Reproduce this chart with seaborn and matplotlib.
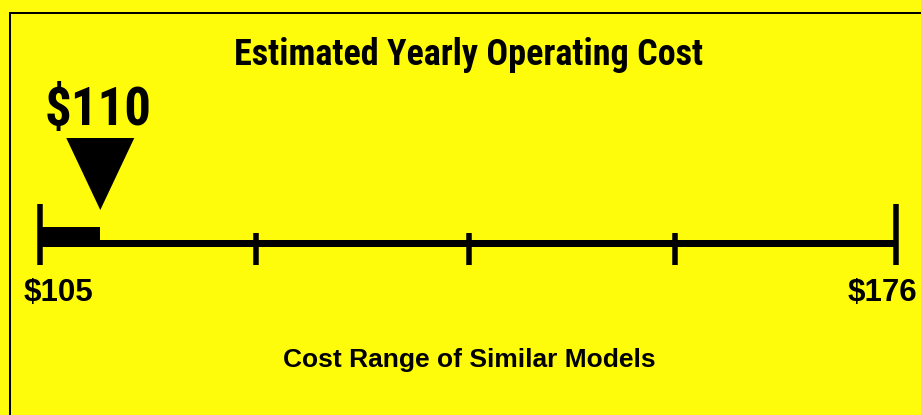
import matplotlib
matplotlib.use("Agg")
import matplotlib.pyplot as plt
from matplotlib import font_manager
from matplotlib.patches import Rectangle
import seaborn as sns
import pandas as pd

# ---- data ----
range_min = 105
range_max = 176
this_model = 110
tick_values = [122.9, 140.6, 157.7]
title = "Estimated Yearly Operating Cost"
subtitle = "Cost Range of Similar Models"

BG = "#FEFC0B"
W, H = 921, 415
DPI = 100

sns.set_theme(style="white", rc={"axes.facecolor": BG, "figure.facecolor": BG})

names = {f.name for f in font_manager.fontManager.ttflist}
WIDE = "Liberation Sans" if "Liberation Sans" in names else "DejaVu Sans"
NARROW = WIDE
for cand in ("Roboto Condensed", "Archivo Narrow", "Liberation Sans Narrow"):
    if cand in names:
        NARROW = cand
        break
plt.rcParams["font.family"] = [WIDE, "DejaVu Sans"]

fig = plt.figure(figsize=(W / DPI, H / DPI), dpi=DPI)
ax = fig.add_axes([0, 0, 1, 1])
ax.set_facecolor(BG)

# scale: range_min at px 40, range_max at px 896
px_left, px_right = 40, 896
ppd = (px_right - px_left) / (range_max - range_min)
ax.set_xlim(range_min - px_left / ppd, range_max + (W - px_right) / ppd)
ax.set_ylim(H, 0)  # y in pixel units, top-down
ax.axis("off")

pt = 72 / DPI  # points per pixel

# main scale line
line_df = pd.DataFrame({"x": [range_min, range_max], "y": [243, 243]})
sns.lineplot(data=line_df, x="x", y="y", ax=ax, color="black",
             linewidth=7 * pt, solid_capstyle="butt", legend=False)

# end ticks
for v in (range_min, range_max):
    ax.plot([v, v], [204, 265], color="black", linewidth=5.5 * pt, solid_capstyle="butt")
# intermediate ticks
for v in tick_values:
    ax.plot([v, v], [233, 265], color="black", linewidth=5.5 * pt, solid_capstyle="butt")

# thick bar from min to this model
ax.barh([237], [this_model - range_min], left=range_min, height=20,
        color="black", edgecolor="none")

# pointer triangle
hw = 34 / ppd
ax.fill([this_model - hw, this_model + hw, this_model], [138, 138, 210],
        color="black", linewidth=0)

# texts
ax.text(this_model - 2 / ppd, 125, f"${this_model}", fontsize=38, fontweight="bold",
        family=[NARROW, "DejaVu Sans"], ha="center", va="baseline", color="black")
ax.text(range_min - 16 / ppd, 301, f"${range_min}", fontsize=22.5, fontweight="bold",
        ha="left", va="baseline", color="black")
ax.text(range_max + 21 / ppd, 301, f"${range_max}", fontsize=22.5, fontweight="bold",
        ha="right", va="baseline", color="black")
ax.text(0.509, 1 - 65 / H, title, transform=ax.transAxes, fontsize=26, fontweight="bold",
        family=[NARROW, "DejaVu Sans"], ha="center", va="baseline", color="black")
ax.text(0.510, 1 - 367 / H, subtitle, transform=ax.transAxes, fontsize=19,
        fontweight="bold", ha="center", va="baseline", color="black")

# border frame (extends beyond right/bottom of canvas)
fig.patches.append(Rectangle((10 / W, -0.1), 1.2, 1.1 - 13 / H,
                             transform=fig.transFigure, fill=False,
                             edgecolor="black", linewidth=2 * pt))

fig.savefig("out.png", dpi=DPI, facecolor=BG)
